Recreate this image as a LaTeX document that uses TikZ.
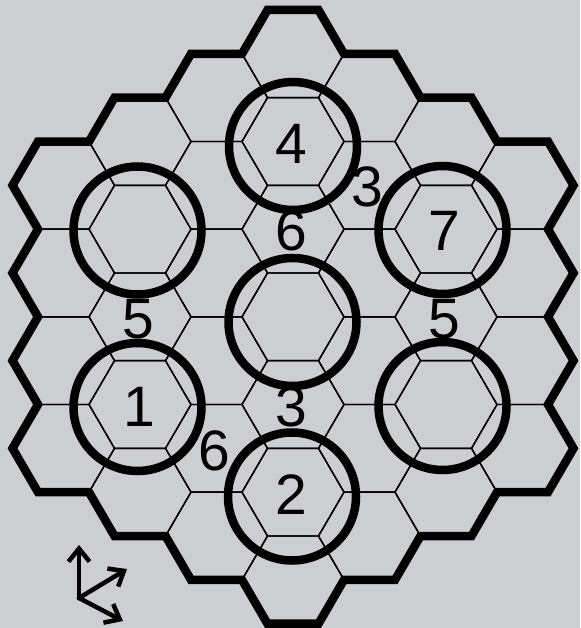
\documentclass[tikz,border=0pt]{standalone}
\usepackage{fontspec}
\setmainfont{Liberation Sans}
\usetikzlibrary{arrows.meta}
\definecolor{bg}{RGB}{205,206,208}
\begin{document}
\begin{tikzpicture}[x=1pt,y=-1pt,
  grid/.style={line width=1.4pt, black, line join=round},
  rim/.style={line width=8.5pt, black, line join=miter},
  ring/.style={circle, draw=black, line width=8.5pt, minimum size=128pt, inner sep=0pt},
  num/.style={font=\fontsize{57}{60}\selectfont, inner sep=0pt, text=black},
  dirarrow/.style={draw=black, line width=4.5pt, line cap=round,
    arrows={-Straight Barb[length=13pt,width=21pt,line width=4.5pt]}}]
\useasboundingbox (0,0) rectangle (580,628);
\fill[bg] (0,0) rectangle (580,628);
% thin cell grid
\foreach \k in {-3,...,3}{
  \pgfmathtruncatemacro\n{6-abs(\k)}
  \pgfmathsetmacro\cx{293+76.5*\k}
  \foreach \j in {0,...,\n}{
    \pgfmathsetmacro\cy{10+43.835*(1+abs(\k))+87.67*\j}
    \draw[grid] (\cx-51,\cy) -- (\cx-25.5,\cy-43.835) -- (\cx+25.5,\cy-43.835)
      -- (\cx+51,\cy) -- (\cx+25.5,\cy+43.835) -- (\cx-25.5,\cy+43.835) -- cycle;
  }
}
% thick outer rim
\draw[rim] (267.5,10) -- (318.5,10) -- (344,53.835) -- (395,53.835) -- (420.5,97.67)
  -- (471.5,97.67) -- (497,141.505) -- (548,141.505) -- (573.5,185.34) -- (548,229.175)
  -- (573.5,273.01) -- (548,316.845) -- (573.5,360.68) -- (548,404.515) -- (573.5,448.35)
  -- (548,492.185) -- (497,492.185) -- (471.5,536.02) -- (420.5,536.02) -- (395,579.855)
  -- (344,579.855) -- (318.5,623.69) -- (267.5,623.69) -- (242,579.855) -- (191,579.855)
  -- (165.5,536.02) -- (114.5,536.02) -- (89,492.185) -- (38,492.185) -- (12.5,448.35)
  -- (38,404.515) -- (12.5,360.68) -- (38,316.845) -- (12.5,273.01) -- (38,229.175)
  -- (12.5,185.34) -- (38,141.505) -- (89,141.505) -- (114.5,97.67) -- (165.5,97.67)
  -- (191,53.835) -- (242,53.835) -- cycle;
% rings
\node[ring] (c4) at (293,146) {};
\node[ring] (cc) at (292.5,322) {};
\node[ring] (c2) at (292,496.5) {};
\node[ring] (cl) at (137.5,230.5) {};
\node[ring] (c1) at (137.5,407) {};
\node[ring] (c7) at (442.5,230) {};
\node[ring] (cr) at (442.5,406) {};
% numbers
\node[num] (n4) at (291,143.5) {4};
\node[num] (n3a) at (367.5,187.3) {3};
\node[num] (n6a) at (291,231.2) {6};
\node[num] (n7) at (444,231.2) {7};
\node[num] (n5a) at (138,318.8) {5};
\node[num] (n5b) at (444,318.8) {5};
\node[num] (n1) at (139,406.5) {1};
\node[num] (n3b) at (291,406.5) {3};
\node[num] (n6b) at (214.5,450.4) {6};
\node[num] (n2) at (291,494.2) {2};
% direction arrows
\coordinate (o) at (79,598);
\coordinate (ta) at (79,545);
\coordinate (tb) at (127,569);
\coordinate (tc) at (123,621);
\path[dirarrow] (o) -- (ta);
\path[dirarrow] (o) -- (tb);
\path[dirarrow] (o) -- (tc);
\end{tikzpicture}
\end{document}
